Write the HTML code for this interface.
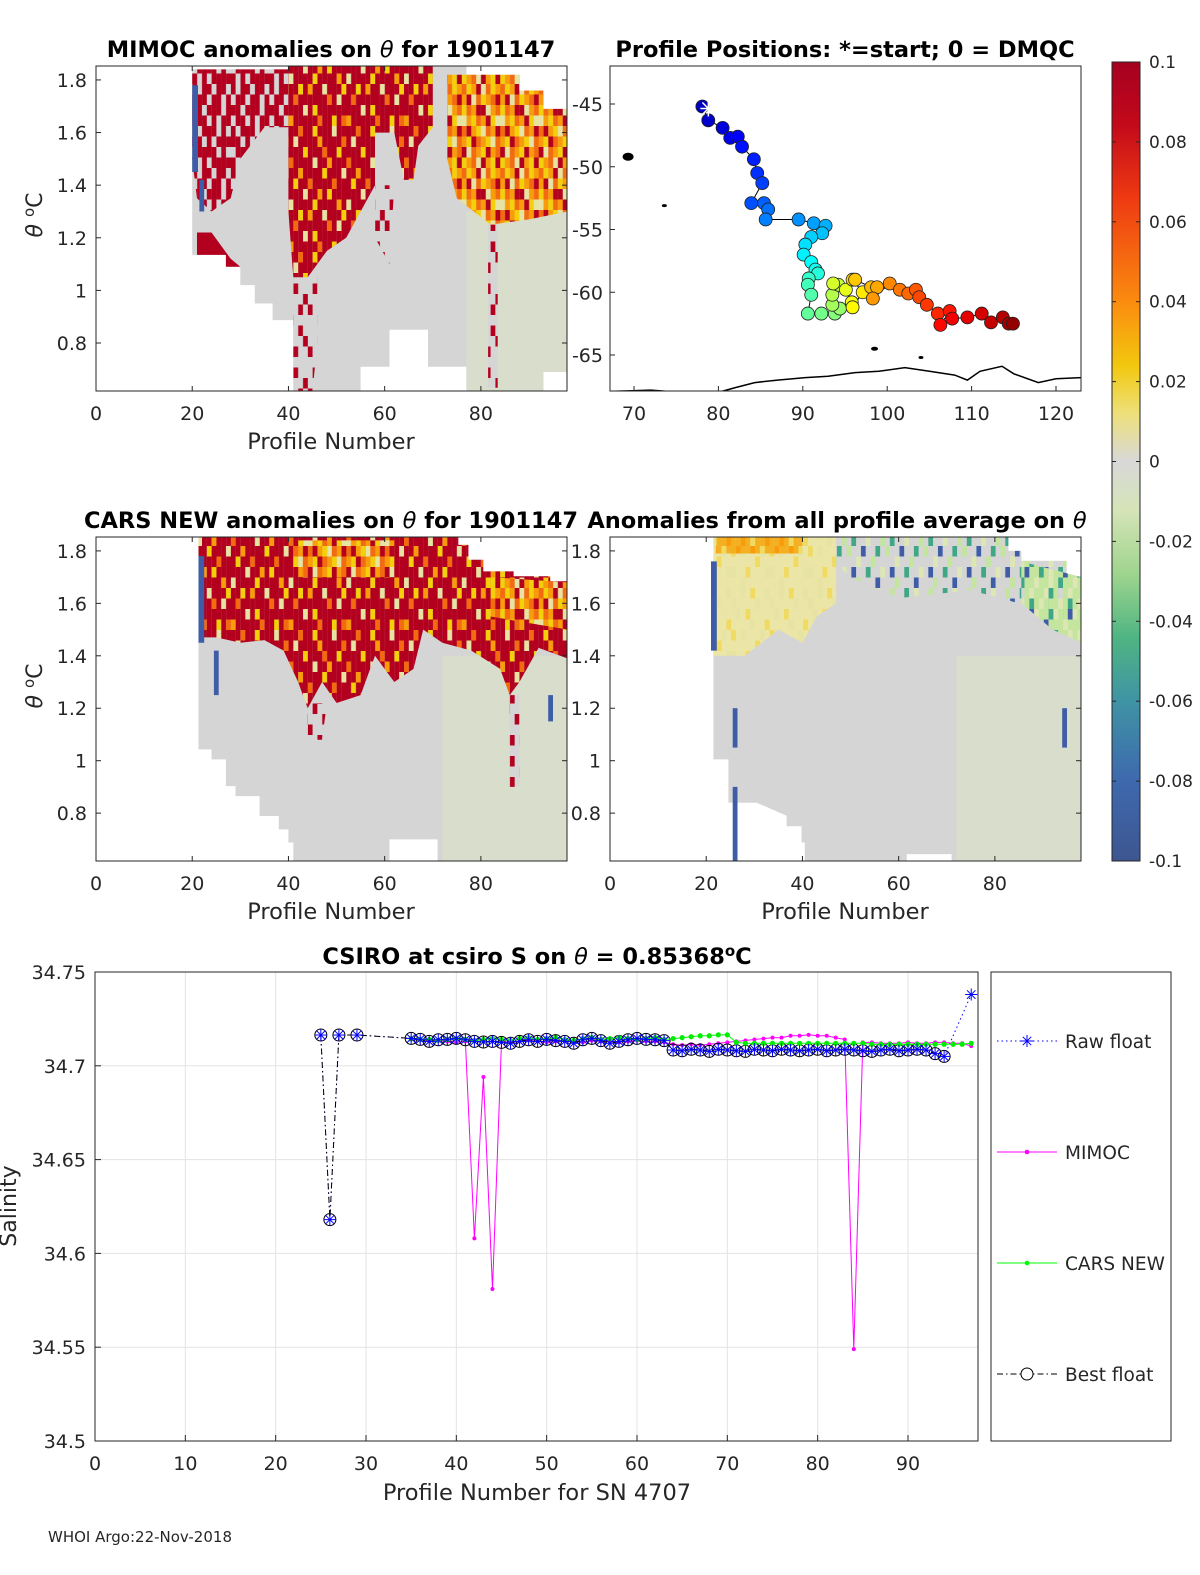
<!DOCTYPE html>
<html><head><meta charset="utf-8">
<style>
html,body{margin:0;padding:0;background:#fff;}
svg{display:block;font-family:"DejaVu Sans","Liberation Sans",sans-serif;}
</style></head>
<body>
<svg id="fig" width="1200" height="1575" viewBox="0 0 1200 1575" xmlns="http://www.w3.org/2000/svg"></svg>
<script>
// ---------------- DATA ----------------
const bestProf=[25,26,27,29,35,36,37,38,39,40,41,42,43,44,45,46,47,48,49,50,51,52,53,54,55,56,57,58,59,60,61,62,63,64,65,66,67,68,69,70,71,72,73,74,75,76,77,78,79,80,81,82,83,84,85,86,87,88,89,90,91,92,93,94];
const bestSal=[34.7164,34.618,34.7164,34.7164,
34.7146,34.7141,34.7130,34.7139,34.7141,34.7146,34.7139,34.7130,34.7127,34.7130,34.7125,34.7120,34.7130,34.7139,34.7130,34.7141,34.7134,34.7130,34.7120,34.7139,34.7146,34.7134,34.7120,34.7130,34.7139,34.7146,34.7141,34.7139,34.7134,
34.7084,34.7080,34.7088,34.7084,34.7077,34.7088,34.7084,34.7080,34.7077,34.7088,34.7084,34.7080,34.7088,34.7084,34.7080,34.7084,34.7088,34.7080,34.7084,34.7088,34.7084,34.7080,34.7077,34.7084,34.7088,34.7080,34.7084,34.7088,34.7084,
34.7065,34.7050];
const rawProf=bestProf.concat([97]);
const rawSal=bestSal.concat([34.738]);
const modelProf=[35,36,37,38,39,40,41,42,43,44,45,46,47,48,49,50,51,52,53,54,55,56,57,58,59,60,61,62,63,64,65,66,67,68,69,70,71,72,73,74,75,76,77,78,79,80,81,82,83,84,85,86,87,88,89,90,91,92,93,94,95,96,97];
const mimocSal=[34.7140,34.7135,34.7130,34.7135,34.7130,34.7125,34.7130,
34.608,34.694,34.581,
34.7130,34.7125,34.7130,34.7135,34.7130,34.7125,34.7130,34.7135,34.7130,34.7125,34.7135,34.7130,34.7130,34.7125,34.7130,34.7135,34.7130,34.7130,34.7125,
34.7115,34.7110,34.7115,34.7110,34.7115,34.7120,34.7125,34.7130,34.7135,
34.7140,34.7145,34.7150,34.7150,34.7160,34.7160,34.7165,34.7160,34.7160,34.7150,34.7140,
34.549,
34.7125,34.7125,34.7120,34.7120,34.7120,34.7125,34.7120,34.7120,34.7125,34.7125,34.7120,34.7120,34.7105];
const carsSal=[34.7145,34.7140,34.7140,34.7135,34.7140,34.7145,34.7140,34.7135,34.7140,34.7145,34.7140,34.7135,34.7145,34.7150,34.7140,34.7145,34.7150,34.7140,34.7135,34.7145,34.7150,34.7140,34.7145,34.7150,34.7145,34.7140,34.7145,34.7150,34.7140,
34.7145,34.7150,34.7155,34.7160,34.7160,34.7165,34.7165,
34.7125,34.7120,34.7120,34.7120,34.7120,34.7120,34.7120,34.7120,34.7120,34.7120,34.7120,34.7120,34.7120,34.7120,34.7120,34.7115,34.7115,34.7115,34.7115,34.7115,34.7115,34.7115,34.7115,34.7115,34.7115,34.7115,34.7120];
const salTicks=[34.5,34.55,34.6,34.65,34.7,34.75];
const salTickLabels=["34.5","34.55","34.6","34.65","34.7","34.75"];
const profTicks=[0,10,20,30,40,50,60,70,80,90];

const posLon=[78.1,78.8,80.5,81.4,82.3,82.8,84.2,84.6,85.2,83.9,85.4,85.9,85.6,89.5,91.3,92.7,92.3,91.0,90.3,90.1,91.0,91.5,91.8,90.7,90.6,91.0,90.6,92.2,93.8,94.4,93.5,93.5,94.2,93.6,95.1,95.8,95.9,97.1,95.9,96.2,98.1,98.8,98.3,100.3,101.5,102.5,103.4,103.8,104.7,106.0,107.4,106.3,107.7,109.5,111.2,112.3,113.7,114.4,114.9];
const posLat=[-45.2,-46.3,-46.9,-47.7,-47.6,-48.4,-49.4,-50.5,-51.3,-52.9,-52.9,-53.4,-54.2,-54.2,-54.5,-54.7,-55.3,-55.6,-56.2,-57.0,-57.6,-58.2,-58.5,-58.9,-59.4,-60.2,-61.7,-61.7,-61.7,-61.3,-61.0,-60.2,-59.4,-59.3,-59.8,-60.8,-61.2,-60.0,-59.0,-59.0,-59.6,-59.6,-60.5,-59.3,-59.8,-60.1,-59.8,-60.4,-61.0,-61.7,-61.5,-62.6,-62.1,-62.0,-61.7,-62.4,-62.0,-62.5,-62.5];
const coastLon=[67.2,72,76,80.4,82,84.3,87,90.3,93,96.2,99,102.1,105,108.0,109.5,111,113.6,115,117.9,120,123];
const coastLat=[-67.9,-67.8,-68.0,-67.9,-67.6,-67.2,-67.0,-66.8,-66.7,-66.4,-66.3,-66.0,-66.3,-66.6,-67.0,-66.3,-65.9,-66.5,-67.2,-66.9,-66.8];
const lonTicks=[70,80,90,100,110,120];
const latTicks=[-45,-50,-55,-60,-65];

const thetaTicks=[0.8,1,1.2,1.4,1.6,1.8];
const thetaTickLabels=["0.8","1","1.2","1.4","1.6","1.8"];
const heatXTicks=[0,20,40,60,80];
const mimocDomain=[[20,1.84],[40,1.84],[40,1.855],[77,1.855],[77,1.82],[88,1.82],[88,1.76],[93,1.76],[93,1.69],[98,1.69],[98,0.69],[93,0.69],[93,0.617],[77,0.617],[77,0.71],[69,0.71],[69,0.85],[61,0.85],[61,0.71],[55,0.71],[55,0.617],[41,0.617],[41,0.887],[36.7,0.887],[36.7,0.95],[33,0.95],[33,1.02],[30,1.02],[30,1.09],[27,1.09],[27,1.135],[20,1.135]];
const mimocTint=[[77,1.3],[98,1.3],[98,0.69],[93,0.69],[93,0.617],[77,0.617]];
const mimocHot=[[[40,1.855],[58,1.855],[58,1.4],[55,1.3],[52,1.2],[48,1.15],[46,1.1],[44,1.05],[41,1.05],[40,1.3]],
 [[58,1.855],[70,1.855],[70,1.62],[67,1.55],[66,1.42],[64,1.42],[62,1.6],[58,1.6]]];
const mimocMixed=[[[20,1.84],[40,1.84],[40,1.62],[35,1.62],[30,1.5],[28,1.35],[24,1.3],[21,1.35],[20,1.5]]];
const mimocSparse=[[[41,1.05],[46,1.05],[46,0.8],[45,0.617],[41,0.617],[41,0.85]],
 [[81.5,1.25],[83.5,1.25],[83.5,0.63],[81.5,0.63]],
 [[58,1.4],[62,1.4],[61,1.1],[58,1.2]]];
const mimocSolid=[[[21,1.22],[24,1.22],[28,1.12],[30,1.09],[27,1.09],[27,1.135],[21,1.135]]];
const mimocWarm=[[[73,1.82],[88,1.82],[88,1.76],[93,1.76],[93,1.69],[98,1.69],[98,1.3],[90,1.27],[82,1.25],[75,1.35],[73,1.5]]];
const mimocBlue=[[[20,1.78],[21.2,1.78],[21.2,1.45],[20,1.45]],[[21.5,1.42],[22.5,1.42],[22.5,1.3],[21.5,1.3]]];

const carsDomain=[[21.3,1.855],[75.3,1.855],[75.3,1.823],[77.4,1.823],[77.4,1.766],[80.5,1.766],[80.5,1.722],[86.8,1.722],[86.8,1.703],[94.4,1.703],[94.4,1.684],[98,1.684],[98,0.617],[71,0.617],[71,0.70],[61,0.70],[61,0.617],[41,0.617],[41,0.688],[40,0.688],[40,0.738],[38,0.738],[38,0.789],[34,0.789],[34,0.865],[29,0.865],[29,0.903],[27,0.903],[27,1.005],[24,1.005],[24,1.043],[21.3,1.043]];
const carsTint=[[72,1.4],[98,1.4],[98,0.617],[72,0.617]];
const carsHot=[[[21.3,1.855],[75.3,1.855],[75.3,1.823],[77.4,1.823],[77.4,1.766],[80.5,1.766],[80.5,1.722],[86.8,1.722],[86.8,1.703],[94.4,1.703],[94.4,1.684],[98,1.684],[98,1.39],[92,1.43],[88,1.3],[86,1.25],[84,1.35],[78,1.42],[72,1.45],[68,1.5],[66,1.35],[62,1.3],[58,1.4],[55,1.25],[50,1.22],[47,1.3],[44,1.2],[42,1.3],[39,1.42],[35,1.46],[30,1.45],[25,1.47],[22,1.47],[21.3,1.6]]];
const carsMixed=[];
const carsSparse=[[[86,1.25],[88,1.25],[88,0.9],[86,0.9]],[[44,1.22],[48,1.22],[47,1.08],[44,1.08]]];
const carsSolid=[];
const carsWarm=[[[41,1.84],[62,1.84],[62,1.7],[41,1.7]],[[82,1.7],[98,1.68],[98,1.5],[82,1.55]]];
const carsBlue=[[[21.3,1.78],[22.5,1.78],[22.5,1.45],[21.3,1.45]],[[24.5,1.42],[25.5,1.42],[25.5,1.25],[24.5,1.25]],[[94,1.25],[95,1.25],[95,1.15],[94,1.15]]];

const profDomain=[[21.5,1.86],[82.8,1.86],[82.8,1.8],[85.5,1.8],[85.5,1.762],[94.9,1.762],[94.9,1.698],[98,1.698],[98,0.617],[71,0.617],[71,0.644],[61.7,0.644],[61.7,0.617],[40.5,0.617],[40.5,0.688],[39.8,0.688],[39.8,0.75],[36.7,0.75],[36.7,0.79],[30.5,0.84],[25.6,0.84],[24.6,0.84],[24.6,1.005],[21.5,1.005]];
const profTint=[[72,1.4],[98,1.4],[98,0.617],[72,0.617]];
const profYellow=[[[21.5,1.86],[47,1.86],[47,1.6],[43,1.55],[40,1.45],[35,1.5],[28,1.4],[21.5,1.4]]];
const profGold=[[[22,1.86],[40,1.86],[40,1.79],[22,1.79]]];
const profGreen=[[[47,1.86],[82.8,1.86],[82.8,1.8],[85.5,1.8],[85.5,1.762],[94.9,1.762],[94.9,1.698],[98,1.698],[98,1.5],[90,1.55],[85,1.6],[75,1.65],[60,1.62],[50,1.7],[47,1.75]]];
const profLightGreen=[[[85.5,1.76],[98,1.7],[98,1.45],[92,1.5],[85.5,1.6]]];
const profBlue=[[[21,1.76],[22.2,1.76],[22.2,1.42],[21,1.42]],[[25.5,0.9],[26.5,0.9],[26.5,0.617],[25.5,0.617]],[[25.5,1.2],[26.5,1.2],[26.5,1.05],[25.5,1.05]],[[94,1.2],[95,1.2],[95,1.05],[94,1.05]]];

const cbarTicks=[0.1,0.08,0.06,0.04,0.02,0,-0.02,-0.04,-0.06,-0.08,-0.1];
const cbarLabels=["0.1","0.08","0.06","0.04","0.02","0","-0.02","-0.04","-0.06","-0.08","-0.1"];

// ---------------- DRAW ----------------
const NS="http://www.w3.org/2000/svg";
const svg=document.getElementById('fig');
function mk(tag,attrs,parent){const e=document.createElementNS(NS,tag);for(const k in attrs)e.setAttribute(k,attrs[k]);(parent||svg).appendChild(e);return e;}
function txt(s,x,y,size,anchor,parent,weight){const t=mk('text',{x:x,y:y,'font-size':size,'text-anchor':anchor||'start',fill:'#262626'},parent);if(weight)t.setAttribute('font-weight',weight);t.textContent=s;return t;}

const defs=mk('defs',{});
const pal={R:'#b2001e',O:'#f26b10',Y:'#f3cf0c',L:'#e7e3a3',G:'#d5d5d5',A:'#f99c0b',g:'#c4e59e',t:'#3fa785',b:'#3e5da6',l:'#dde7b4',y:'#ece6a6',u:'#f0da60',k:'#f4b020'};
const tiles={
 hot:["RRORRYRRRLRR","RLRRRRARRRRO","RRRYRRRORRYR","ORRRRLRRARRR","RRARRRRYRRRL","RYRRORRRRORR","RRRLRRARYRRR","LRRRRYRRRRAR","RRYRARRLRRRY","RORRRRRRORLR","RRRLRYRRRRRR","ARRRRRORRYRO"],
 warm:["OYARLOYA","ARLOYAOR","YOARRLAO","LAYOARYL","ORAYLOAR","AYROAYLO","RLOAYRAO","YAOLRAYR"],
 mixed:["RGRRGRRG","GRRGRRGR","RRGRRRGR","GRRGRGRR","RGRRRGRG","RRGRGRRR","GRRRRGRG","RGRGRRRR"],
 sparse:["GGRGGGGR","RGGGRRGG","GGRGGGGG","GRGGGRGG","GGGRGGGR","RGGGGGRG","GGRGRGGG","GGGGGGRG"],
 yellow:["yyLyuyyL","LyyyyLyy","yLyuyyyy","yyyyLyyu","uyLyyyLy","yyyyyuyy","LyyuyyyL","yyLyyyyy"],
 gold:["kkAuukAk","ukkAkkuA","AkukkAkk","kkAkukkA","kAkkAkuk","ukkkkAkk","kkuAkkuk","AkkkukkA"],
 green:["GgGGtGlG","GGbGGGgG","lGGgGbGG","GtGGlGGg","gGGbGGtG","GGlGGgGG","GbGGtGGl","GGgGGGbG"],
 lgreen:["gltgGglg","lggglgtg","ggtlggbl","gbggglgg","lggtgglg","ggbglgtg","tglggbgg","gglgtggl"]
};
const CW=4.81,CH=10.5;
for(const name in tiles){
 const rows=tiles[name];const n=rows[0].length,m=rows.length;
 const p=mk('pattern',{id:'pat-'+name,patternUnits:'userSpaceOnUse',width:CW*n,height:CH*m},defs);
 rows.forEach((r,j)=>{[...r].forEach((c,i)=>{mk('rect',{x:i*CW,y:j*CH,width:CW+0.05,height:CH+0.05,fill:pal[c]},p);});});
}
const grad=mk('linearGradient',{id:'cbar-grad',x1:0,y1:0,x2:0,y2:1},defs);
[[0,'#a50021'],[0.08,'#c40a1a'],[0.17,'#ee3a12'],[0.3,'#fb8b0f'],[0.38,'#f2c80e'],[0.44,'#ede07a'],[0.5,'#d8d8d8'],[0.56,'#d6e4b8'],[0.64,'#9fd58e'],[0.72,'#4fb582'],[0.8,'#3f93a4'],[0.9,'#3e69ae'],[1,'#3d5690']].forEach(s=>mk('stop',{offset:s[0],'stop-color':s[1]},grad));

function poly(pts,sx,sy,fill,parent,name){
 const e=mk('polygon',{points:pts.map(p=>sx(p[0]).toFixed(1)+','+sy(p[1]).toFixed(1)).join(' '),fill:fill},parent);
 
 
 return e;
}

function heatPanel(id,x0,y0,w,h,yLabelX,layers){
 const tTop=1.853,tBot=0.6175,pMax=97.9;
 const sx=p=>x0+p/pMax*w, sy=t=>y0+(tTop-t)/(tTop-tBot)*h;
 const g=mk('g',{});
 
 
 const cp=mk('clipPath',{id:'clip-'+id},defs);mk('rect',{x:x0,y:y0,width:w,height:h},cp);
 const c=mk('g',{'clip-path':'url(#clip-'+id+')'},g);
 layers.forEach(L=>{
  if(L.type==='domain')poly(L.pts,sx,sy,'#d5d5d5',c,'data-domain');
  else if(L.type==='tint')poly(L.pts,sx,sy,'#d9ddcc',c,'tint-region');
  else L.polys.forEach(pp=>poly(pp,sx,sy,L.fill,c,L.name));
 });
 mk('rect',{x:x0,y:y0,width:w,height:h,fill:'none',stroke:'#262626','stroke-width':1},g);
 heatXTicks.forEach(v=>{const x=sx(v);mk('line',{x1:x,y1:y0+h,x2:x,y2:y0+h-5,stroke:'#262626'},g);mk('line',{x1:x,y1:y0,x2:x,y2:y0+5,stroke:'#262626'},g);
  txt(String(v),x,y0+h+29,19,'middle',g);});
 thetaTicks.forEach((v,i)=>{const y=sy(v);mk('line',{x1:x0,y1:y,x2:x0+5,y2:y,stroke:'#262626'},g);mk('line',{x1:x0+w,y1:y,x2:x0+w-5,y2:y,stroke:'#262626'},g);
  txt(thetaTickLabels[i],yLabelX,y+7,19,'end',g);});
 return g;
}

heatPanel('mimoc-panel',96,66,471,325,87,[
 {type:'domain',pts:mimocDomain},{type:'tint',pts:mimocTint},
 {polys:mimocSparse,fill:'url(#pat-sparse)',name:'sparse-anomaly'},
 {polys:mimocMixed,fill:'url(#pat-mixed)',name:'mixed-anomaly'},
 {polys:mimocHot,fill:'url(#pat-hot)',name:'hot-anomaly'},
 {polys:mimocWarm,fill:'url(#pat-warm)',name:'warm-anomaly'},
 {polys:mimocSolid,fill:'#b2001e',name:'solid-anomaly'},
 {polys:mimocBlue,fill:'#3e5da6',name:'cold-anomaly'}]);
heatPanel('cars-panel',96,537,471,324,87,[
 {type:'domain',pts:carsDomain},{type:'tint',pts:carsTint},
 {polys:carsSparse,fill:'url(#pat-sparse)',name:'sparse-anomaly'},
 {polys:carsMixed,fill:'url(#pat-mixed)',name:'mixed-anomaly'},
 {polys:carsHot,fill:'url(#pat-hot)',name:'hot-anomaly'},
 {polys:carsWarm,fill:'url(#pat-warm)',name:'warm-anomaly'},
 {polys:carsSolid,fill:'#b2001e',name:'solid-anomaly'},
 {polys:carsBlue,fill:'#3e5da6',name:'cold-anomaly'}]);
heatPanel('profile-average-panel',610,537,471,324,601,[
 {type:'domain',pts:profDomain},{type:'tint',pts:profTint},
 {polys:profYellow,fill:'url(#pat-yellow)',name:'warm-anomaly'},
 {polys:profGold,fill:'url(#pat-gold)',name:'gold-anomaly'},
 {polys:profGreen,fill:'url(#pat-green)',name:'cool-anomaly'},
 {polys:profLightGreen,fill:'url(#pat-lgreen)',name:'cool-anomaly-right'},
 {polys:profBlue,fill:'#3e5da6',name:'cold-anomaly'}]);

function titleT(html,x,y,name){const t=mk('text',{x:x,y:y,'font-size':22.5,'font-weight':'bold','text-anchor':'middle',fill:'#000'});t.innerHTML=html;return t;}
titleT('MIMOC anomalies on <tspan font-style="italic" font-weight="normal">\u03B8</tspan>  for 1901147',331,57,'mimoc-title');
titleT('Profile Positions: *=start; 0 = DMQC',845,57,'map-title');
titleT('CARS NEW anomalies on <tspan font-style="italic" font-weight="normal">\u03B8</tspan> for 1901147',331,528,'cars-title');
titleT('Anomalies from all profile average on <tspan font-style="italic" font-weight="normal">\u03B8</tspan>',837,528,'average-title');
txt('Profile Number',331,449,22.5,'middle');
txt('Profile Number',331,919,22.5,'middle');
txt('Profile Number',845,919,22.5,'middle');
[[215,'y-axis-title-top'],[686,'y-axis-title-mid']].forEach(a=>{
 const t=mk('text',{x:0,y:0,'font-size':22,'text-anchor':'middle',fill:'#262626',transform:'translate(42,'+a[0]+') rotate(-90)'});
 
 t.innerHTML='<tspan font-style="italic">\u03B8</tspan> <tspan font-size="15" dy="-8">o</tspan><tspan dy="8">C</tspan>';
});

(function(){
 const x0=610,y0=66,w=471,h=325;
 const mx=lon=>634+(lon-70)*8.44, my=lat=>104+(-45-lat)*12.55;
 const g=mk('g',{});
 const cp=mk('clipPath',{id:'clip-map'},defs);mk('rect',{x:x0,y:y0,width:w,height:h},cp);
 const c=mk('g',{'clip-path':'url(#clip-map)'},g);
 const coast=mk('polyline',{points:coastLon.map((l,i)=>mx(l).toFixed(1)+','+my(coastLat[i]).toFixed(1)).join(' '),fill:'none',stroke:'#000','stroke-width':1.5},c);
 
 [[69.3,-49.2,5,3.5],[73.6,-53.1,2,1],[98.5,-64.5,3,1.5],[104,-65.2,2,1]].forEach(s=>{const e=mk('ellipse',{cx:mx(s[0]),cy:my(s[1]),rx:s[2],ry:s[3],fill:'#000',stroke:'#000','stroke-width':1},c);});
 const track=mk('polyline',{points:posLon.map((l,i)=>mx(l).toFixed(1)+','+my(posLat[i]).toFixed(1)).join(' '),fill:'none',stroke:'#000','stroke-width':1},c);
 
 function jet(f){const r=Math.min(1,Math.max(0,1.5-Math.abs(4*f-3))),gg=Math.min(1,Math.max(0,1.5-Math.abs(4*f-2))),b=Math.min(1,Math.max(0,1.5-Math.abs(4*f-1)));return 'rgb('+Math.round(r*255)+','+Math.round(gg*255)+','+Math.round(b*255)+')';}
 posLon.forEach((l,i)=>{const d=mk('circle',{cx:mx(l),cy:my(posLat[i]),r:6.5,fill:jet(0.06+0.92*i/(posLon.length-1)),stroke:'#222','stroke-width':0.8},c);
  });
 const sx0=mx(posLon[0])+6,sy0=my(posLat[0])+2;
 const st=mk('g',{},c);
 [[8,0],[0,8],[6,6],[6,-6]].forEach(v=>mk('line',{x1:sx0-v[0],y1:sy0-v[1],x2:sx0+v[0],y2:sy0+v[1],stroke:'#fff','stroke-width':1.5},st));
 mk('rect',{x:x0,y:y0,width:w,height:h,fill:'none',stroke:'#262626'},g);
 lonTicks.forEach(v=>{const x=mx(v);mk('line',{x1:x,y1:y0+h,x2:x,y2:y0+h-5,stroke:'#262626'},g);txt(String(v),x,y0+h+29,19,'middle',g);});
 latTicks.forEach(v=>{const y=my(v);mk('line',{x1:x0,y1:y,x2:x0+5,y2:y,stroke:'#262626'},g);txt(String(v),603,y+7,19,'end',g);});
})();

(function(){
 const g=mk('g',{});
 mk('rect',{x:1112,y:62,width:28,height:799,fill:'url(#cbar-grad)',stroke:'#262626'},g);
 cbarTicks.forEach((v,i)=>{const y=62+(0.1-v)/0.2*799;mk('line',{x1:1112,y1:y,x2:1116,y2:y,stroke:'#262626'},g);mk('line',{x1:1140,y1:y,x2:1136,y2:y,stroke:'#262626'},g);
  txt(cbarLabels[i],1149,y+6,17,'start',g);});
})();

(function(){
 const x0=95,y0=972,w=883,h=469,xMax=97.75;
 const X=p=>x0+p/xMax*w, Y=s=>y0+(34.75-s)/0.25*h;
 const g=mk('g',{});
 mk('rect',{x:x0,y:y0,width:w,height:h,fill:'#fff'},g);
 profTicks.forEach(v=>{const x=X(v);mk('line',{x1:x,y1:y0,x2:x,y2:y0+h,stroke:'#e3e3e3'},g);mk('line',{x1:x,y1:y0+h,x2:x,y2:y0+h-6,stroke:'#262626'},g);txt(String(v),x,y0+h+29,19,'middle',g);});
 salTicks.forEach((v,i)=>{const y=Y(v);mk('line',{x1:x0,y1:y,x2:x0+w,y2:y,stroke:'#e3e3e3'},g);mk('line',{x1:x0,y1:y,x2:x0+6,y2:y,stroke:'#262626'},g);txt(salTickLabels[i],86,y+7,19,'end',g);});
 const cp=mk('clipPath',{id:'clip-sal'},defs);mk('rect',{x:x0,y:y0,width:w,height:h},cp);
 const c=mk('g',{'clip-path':'url(#clip-sal)'},g);
 function line(px,py,stroke,dash,name,wid){const e=mk('polyline',{points:px.map((p,i)=>X(p).toFixed(1)+','+Y(py[i]).toFixed(1)).join(' '),fill:'none',stroke:stroke,'stroke-width':wid||1,'stroke-dasharray':dash||'none'},c);}
 line(rawProf,rawSal,'#0000ff','1.5 3','raw-float-line');
 line(modelProf,mimocSal,'#ff00ff',null,'mimoc-line');
 modelProf.forEach((p,i)=>{const d=mk('circle',{cx:X(p),cy:Y(mimocSal[i]),r:2,fill:'#ff00ff'},c);});
 line(bestProf,bestSal,'#000','6 3 1.5 3','best-float-line');
 bestProf.forEach((p,i)=>{const d=mk('circle',{cx:X(p),cy:Y(bestSal[i]),r:6,fill:'none',stroke:'#000','stroke-width':1},c);});
 line(modelProf,carsSal,'#00ff00',null,'cars-line');
 modelProf.forEach((p,i)=>{const d=mk('circle',{cx:X(p),cy:Y(carsSal[i]),r:2.6,fill:'#00ee00'},c);});
 rawProf.forEach((p,i)=>{const cx=X(p),cy=Y(rawSal[i]);const s=mk('g',{},c);
  [[6,0],[0,6],[4.2,4.2],[4.2,-4.2]].forEach(v=>mk('line',{x1:cx-v[0],y1:cy-v[1],x2:cx+v[0],y2:cy+v[1],stroke:'#0000ff','stroke-width':1},s));});
 mk('rect',{x:x0,y:y0,width:w,height:h,fill:'none',stroke:'#262626'},g);
 txt('Profile Number for SN 4707',537,1500,22.5,'middle',g);
 const yl=mk('text',{x:0,y:0,'font-size':22,'text-anchor':'middle',fill:'#262626',transform:'translate(16,1206) rotate(-90)'},g);
 yl.textContent='Salinity';
 const tt=mk('text',{x:537,y:964,'font-size':22.5,'font-weight':'bold','text-anchor':'middle',fill:'#000'},g);
 
 tt.innerHTML='CSIRO at csiro S on <tspan font-style="italic" font-weight="normal">\u03B8</tspan> = 0.85368<tspan font-size="15" dy="-8">o</tspan><tspan dy="8">C</tspan>';
 const lg=mk('g',{});
 mk('rect',{x:991,y:972,width:180,height:469,fill:'#fff',stroke:'#262626'},lg);
 const ents=[['Raw float',1041,'#0000ff','1.5 3','star'],['MIMOC',1152,'#ff00ff',null,'dot'],['CARS NEW',1263,'#00ff00',null,'gdot'],['Best float',1374,'#000','6 3 1.5 3','circ']];
 ents.forEach(e=>{const eg=mk('g',{},lg);
  mk('line',{x1:997,y1:e[1],x2:1057,y2:e[1],stroke:e[2],'stroke-dasharray':e[3]||'none'},eg);
  const cx=1027,cy=e[1];
  if(e[4]==='star')[[6,0],[0,6],[4.2,4.2],[4.2,-4.2]].forEach(v=>mk('line',{x1:cx-v[0],y1:cy-v[1],x2:cx+v[0],y2:cy+v[1],stroke:'#0000ff'},eg));
  else if(e[4]==='circ')mk('circle',{cx:cx,cy:cy,r:6,fill:'#fff',stroke:'#000'},eg);
  else mk('circle',{cx:cx,cy:cy,r:2.3,fill:e[2]},eg);
  txt(e[0],1065,cy+7,18.5,'start',eg);});
})();

txt('WHOI Argo:22-Nov-2018',48,1542,15,'start');
</script>
</body></html>
